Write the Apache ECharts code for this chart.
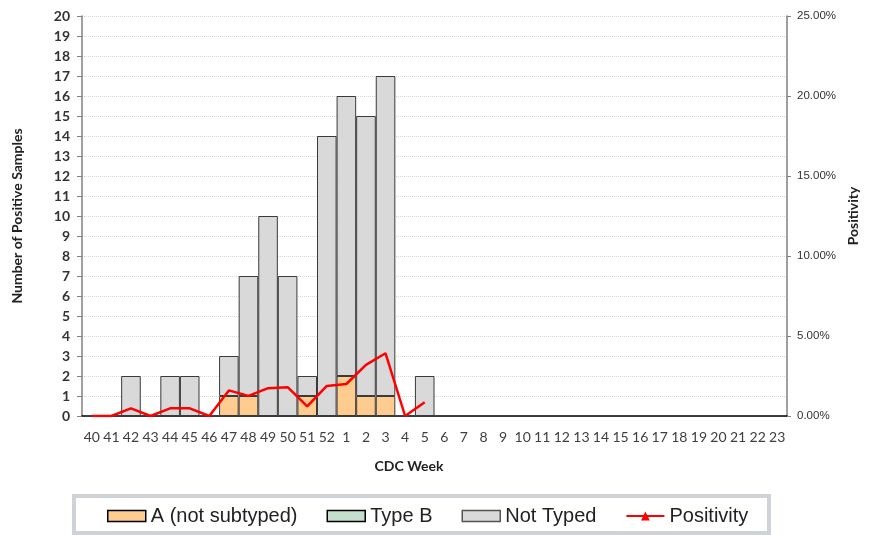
<!DOCTYPE html>
<html>
<head>
<meta charset="utf-8">
<script src="https://cdn.jsdelivr.net/npm/echarts@6/dist/echarts.min.js"></script>
<style>html,body{margin:0;padding:0;background:#fff;}#c{width:872px;height:535px;}</style>
</head>
<body>
<div id="c"></div>
<script>
const weeks = ['40','41','42','43','44','45','46','47','48','49','50','51','52','1','2','3','4','5','6','7','8','9','10','11','12','13','14','15','16','17','18','19','20','21','22','23'];
const aNotSubtyped = [0,0,0,0,0,0,0,1,1,0,0,1,0,2,1,1,0,0,0,0,0,0,0,0,0,0,0,0,0,0,0,0,0,0,0,0];
const typeB =        [0,0,0,0,0,0,0,0,0,0,0,0,0,0,0,0,0,0,0,0,0,0,0,0,0,0,0,0,0,0,0,0,0,0,0,0];
const notTyped =     [0,0,2,0,2,2,0,2,6,10,7,1,14,14,14,16,0,2,0,0,0,0,0,0,0,0,0,0,0,0,0,0,0,0,0,0];
const positivity =   [0,0,0.48,0,0.48,0.48,0,1.6,1.26,1.74,1.8,0.6,1.88,2.0,3.2,3.92,0,0.86,null,null,null,null,null,null,null,null,null,null,null,null,null,null,null,null,null,null];

const nz = a => a.map(v => v === 0 ? null : v);
const chart = echarts.init(document.getElementById('c'));
const barBorder = {borderColor:'#3a3a3a', borderWidth:1};
chart.setOption({
  animation:false,
  grid:{left:82, right:85, top:16, bottom:119},
  graphic:[
    {type:'rect', z:0, shape:{x:74, y:496, width:695, height:37}, style:{fill:'#fff', stroke:'#cfd3d7', lineWidth:4}},
    {type:'text', x:0, y:0, style:{text:'CDC Week', x:409, y:466, align:'center', verticalAlign:'middle', font:'bold 14px Lato', fill:'#222'}}
  ],
  legend:{
    left:107, top:506, padding:0, itemWidth:38, itemHeight:11, itemGap:29, z:5,
    textStyle:{fontFamily:'Liberation Sans', fontSize:20, color:'#222'},
    data:[
      {name:'A (not subtyped)', icon:'rect', itemStyle:{borderColor:'#000', borderWidth:1.5}},
      {name:'Type B', icon:'rect', itemStyle:{borderColor:'#000', borderWidth:1.5}},
      {name:'Not Typed', icon:'rect', itemStyle:{borderColor:'#555', borderWidth:1.5}},
      {name:'Positivity'}
    ]
  },
  xAxis:{
    type:'category', data:weeks, boundaryGap:true,
    axisLine:{lineStyle:{color:'#000', width:1.5}},
    axisTick:{length:5, lineStyle:{color:'#000'}},
    axisLabel:{interval:0, margin:14, fontFamily:'Lato', fontSize:14, color:'#404040'}
  },
  yAxis:[
    {type:'value', min:0, max:20, interval:1, name:'Number of Positive Samples', nameLocation:'middle', nameGap:58,
     nameTextStyle:{fontFamily:'Lato', fontWeight:'bold', fontSize:14, color:'#222'},
     axisLine:{show:true, lineStyle:{color:'#808080', width:1.5}},
     axisTick:{show:true, length:5, lineStyle:{color:'#808080'}},
     axisLabel:{margin:12, fontFamily:'Lato', fontWeight:'bold', fontSize:14, color:'#333'},
     splitLine:{show:true, lineStyle:{color:'#d8d8d8', type:'dotted', width:1}}},
    {type:'value', min:0, max:25, interval:5, position:'right', name:'Positivity', nameLocation:'middle', nameGap:56,
     nameRotate:90,
     nameTextStyle:{fontFamily:'Lato', fontWeight:'bold', fontSize:14, color:'#222'},
     axisLine:{show:true, lineStyle:{color:'#808080', width:1.5}},
     axisTick:{show:true, length:4, lineStyle:{color:'#808080'}},
     axisLabel:{margin:10, fontFamily:'Liberation Sans', fontSize:11.5, color:'#333', formatter:v => v.toFixed(2)+'%'},
     splitLine:{show:false}}
  ],
  series:[
    {name:'A (not subtyped)', type:'bar', stack:'s', barCategoryGap:'0%', data:nz(aNotSubtyped), itemStyle:Object.assign({color:'#ffcc90'}, barBorder)},
    {name:'Type B', type:'bar', stack:'s', barCategoryGap:'0%', data:nz(typeB), itemStyle:Object.assign({color:'#c5dfcf'}, barBorder)},
    {name:'Not Typed', type:'bar', stack:'s', barCategoryGap:'0%', data:nz(notTyped), itemStyle:Object.assign({color:'#d9d9d9'}, barBorder)},
    {name:'Positivity', type:'line', yAxisIndex:1, data:positivity, symbol:'triangle', symbolSize:9, showSymbol:false, connectNulls:false,
     lineStyle:{color:'#ff0000', width:2.5}, itemStyle:{color:'#ff0000'}, z:10}
  ]
});
</script>
</body>
</html>
